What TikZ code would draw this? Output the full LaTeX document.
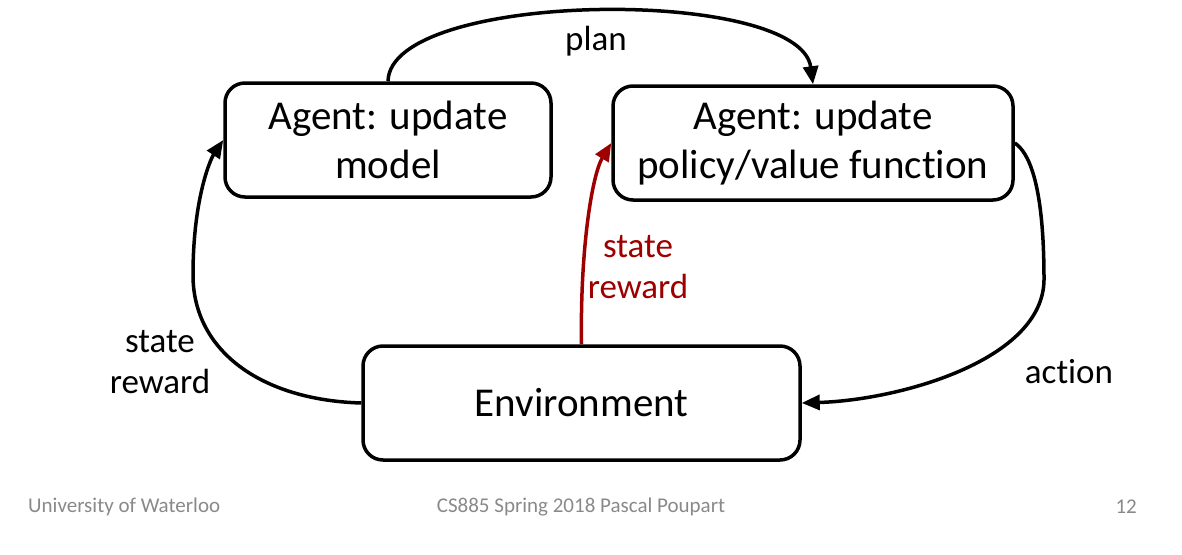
\documentclass[tikz,border=0pt]{standalone}
\usepackage{fontspec}
\setmainfont[Ligatures=NoCommon]{Carlito}
\usetikzlibrary{arrows.meta}
\definecolor{darkred}{RGB}{158,0,0}
\definecolor{footgray}{RGB}{137,137,137}
\begin{document}
\begin{tikzpicture}[x=1pt,y=-1pt,
  box/.style={draw=black,line width=3.5pt,rounded corners=20pt,fill=white,align=center,inner sep=0pt,
    font=\fontsize{41}{49}\selectfont},
  lbl/.style={align=center,inner sep=0pt,font=\fontsize{35}{41}\selectfont},
  foot/.style={inner sep=0pt,text=footgray,font=\fontsize{21}{24}\selectfont},
  conn/.style={line width=3.5pt,-{Triangle[length=18pt,width=15pt]}}]
\useasboundingbox (0,0) rectangle (1182,554);
\node[box,minimum width=326pt,minimum height=114pt] (model) at (388,140) {Agent: update\\model};
\node[box,minimum width=400pt,minimum height=114pt] (policy) at (813,143) {Agent: update\\policy/value function};
\node[box,minimum width=437pt,minimum height=114pt] (env) at (581.5,403) {Environment};
\node[lbl] (plan) at (596,41) {plan};
\node[lbl,text=darkred] (sr1) at (638,267) {state\\reward};
\node[lbl] (sr2) at (160,362) {state\\reward};
\node[lbl] (act) at (1069,372) {action};
\node[foot,anchor=west] (f1) at (28,507) {University of Waterloo};
\node[foot] (f2) at (581,507) {CS885 Spring 2018 Pascal Poupart};
\node[foot,anchor=east] (f3) at (1137,507) {12};
\draw[conn] (model.north) .. controls (390,-10) and (800,-14) .. (policy.north);
\draw[conn] (env.west) .. controls (260,400) and (193,350) .. (193,275) .. controls (193,200) and (210,160) .. (model.west);
\draw[conn] (policy.east) .. controls (1040,160) and (1044,230) .. (1044,280) .. controls (1043,360) and (900,400) .. (env.east);
\draw[conn,draw=darkred] (env.north) .. controls (580,250) and (592,175) .. (policy.west);
\end{tikzpicture}
\end{document}
